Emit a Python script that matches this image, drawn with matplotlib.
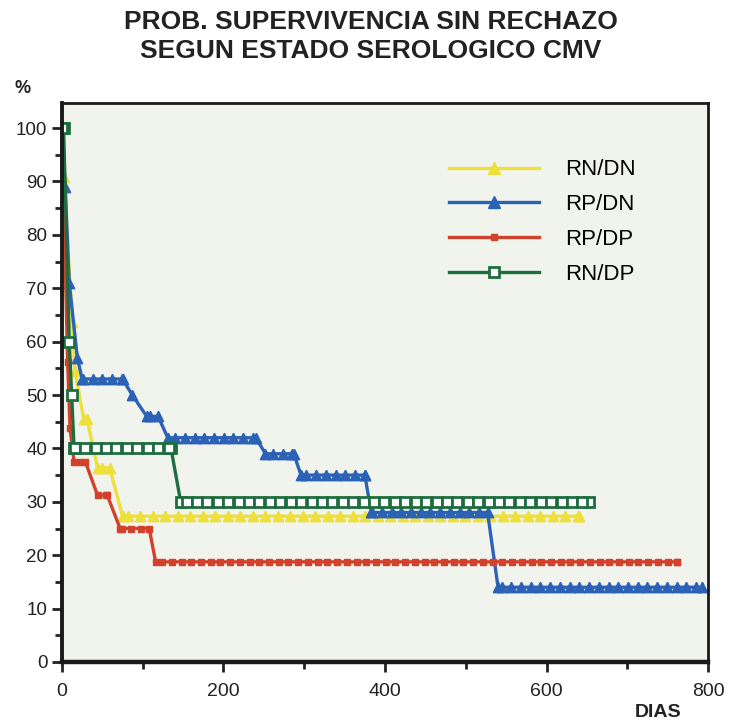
import numpy as np
import matplotlib.pyplot as plt
import matplotlib.colors as mcolors
from matplotlib.lines import Line2D
from matplotlib.markers import MarkerStyle
from matplotlib.path import Path
from matplotlib.patheffects import AbstractPathEffect
from matplotlib.ticker import MultipleLocator
from matplotlib.transforms import Affine2D, IdentityTransform

plt.rcParams['font.family'] = ['Liberation Sans', 'DejaVu Sans']

# Kaplan-Meier breakpoints (dias, %)
rn_dn_x = [0, 2, 13, 16, 27, 31, 44, 59, 75, 640]
rn_dn_y = [100, 90.9, 63.6, 54.5, 45.5, 45.5, 36.4, 36.4, 27.3, 27.3]

rp_dn_x = [0, 4, 9, 19, 25, 75, 87, 105, 119, 131, 240, 252, 287, 296, 375, 383, 527, 540, 793]
rp_dn_y = [100, 89, 71, 57, 53, 53, 50, 46, 46, 42, 42, 39, 39, 35, 35, 28, 28, 14, 14]

rp_dp_x = [0, 7, 10, 15, 29, 44, 56, 72, 108, 116, 762]
rp_dp_y = [100, 56.25, 43.75, 37.5, 37.5, 31.25, 31.25, 25, 25, 18.75, 18.75]

rn_dp_x = [0, 2, 9, 12, 15, 135, 147, 653]
rn_dp_y = [100, 100, 60, 50, 40, 40, 30, 30]

labels = ['RN/DN', 'RP/DN', 'RP/DP', 'RN/DP']


class MarkedStroke(AbstractPathEffect):
    # draws the line, a marker at each vertex and a row of markers
    # every `spacing` points along the flat stretches
    def __init__(self, marker, size, spacing, face, edge, mew):
        super().__init__()
        self.marker = MarkerStyle(marker)
        self.size = size
        self.spacing = spacing
        self.face = mcolors.to_rgb(face)
        self.edge = edge
        self.mew = mew

    def draw_path(self, renderer, gc, tpath, affine, rgbFace=None):
        renderer.draw_path(gc, tpath, affine, rgbFace)
        pts = affine.transform(tpath.vertices)
        dxy = np.diff(pts, axis=0)
        seg = np.hypot(dxy[:, 0], dxy[:, 1])
        flat = np.abs(dxy[:, 1]) <= 0.6 * np.abs(dxy[:, 0])
        cum = np.concatenate([[0], np.cumsum(seg)])
        step = renderer.points_to_pixels(self.spacing)
        d = np.arange(0, cum[-1] + 1e-6, step)
        idx = np.clip(np.searchsorted(cum, d, side='right') - 1, 0, len(seg) - 1)
        d = d[flat[idx]]
        along = np.column_stack([np.interp(d, cum, pts[:, 0]), np.interp(d, cum, pts[:, 1])])
        where = np.vstack([pts, along])
        gc0 = renderer.new_gc()
        gc0.copy_properties(gc)
        gc0.set_foreground(self.edge)
        gc0.set_linewidth(self.mew)
        gc0.set_joinstyle('miter')
        w = renderer.points_to_pixels(self.size)
        mtrans = self.marker.get_transform() + Affine2D().scale(w)
        renderer.draw_markers(gc0, self.marker.get_path(), mtrans, Path(where),
                              IdentityTransform(), self.face)
        gc0.restore()


yellow, blue, red, green = '#eee03c', '#2c62b6', '#d2412c', '#1f6d3e'

fig = plt.figure(figsize=(7.36, 7.25), dpi=100)
ax = fig.add_axes([0.0842, 0.0869, 0.8778, 0.7711])
ax.set_facecolor('#f1f4ec')

ax.plot(rn_dn_x, rn_dn_y, color=yellow, lw=2.4,
        path_effects=[MarkedStroke('^', 7.5, 9, yellow, yellow, 1)])
ax.plot(rp_dn_x, rp_dn_y, color=blue, lw=2.4,
        path_effects=[MarkedStroke('^', 7.5, 7, blue, blue, 1)])
ax.plot(rp_dp_x, rp_dp_y, color=red, lw=2.4,
        path_effects=[MarkedStroke('s', 4.5, 7, red, red, 1)])
ax.plot(rn_dp_x, rn_dp_y, color=green, lw=2.4,
        path_effects=[MarkedStroke('s', 6.5, 7.5, 'white', green, 2)])

handles = [
    Line2D([], [], color=yellow, lw=2.4, marker='^', ms=8),
    Line2D([], [], color=blue, lw=2.4, marker='^', ms=8),
    Line2D([], [], color=red, lw=2.4, marker='s', ms=5),
    Line2D([], [], color=green, lw=2.4, marker='s', ms=7, mfc='white', mew=2),
]

ax.set_xlim(0, 800)
ax.set_ylim(0, 104.7)
ax.xaxis.set_major_locator(MultipleLocator(200))
ax.xaxis.set_minor_locator(MultipleLocator(100))
ax.yaxis.set_major_locator(MultipleLocator(10))
ax.yaxis.set_minor_locator(MultipleLocator(5))
ax.set_yticks(range(0, 101, 10))
ax.tick_params(which='major', direction='out', length=7, width=2, labelsize=13.5, colors='#222222')
ax.tick_params(which='minor', direction='out', length=5, width=2, colors='#222222')
ax.tick_params(axis='x', pad=8, labelsize=14)
for side, w in [('left', 2.8), ('bottom', 3.2), ('right', 2), ('top', 2)]:
    ax.spines[side].set_linewidth(w)
    ax.spines[side].set_color('#1a1a1a')

ax.legend(handles, labels, loc='upper left', bbox_to_anchor=(0.568, 0.935), frameon=False,
          fontsize=16, handlelength=4.05, handletextpad=1.2, labelspacing=0.62,
          numpoints=1, borderpad=0.4)

fig.text(0.504, 0.969, 'PROB. SUPERVIVENCIA SIN RECHAZO', ha='center', va='center',
         fontsize=19, fontweight='bold', color='#222222')
fig.text(0.504, 0.930, 'SEGUN ESTADO SEROLOGICO CMV', ha='center', va='center',
         fontsize=19, fontweight='bold', color='#222222')
fig.text(0.03, 0.878, '%', ha='center', va='center', fontsize=13, fontweight='bold', color='#222222')
fig.text(0.894, 0.017, 'DIAS', ha='center', va='center', fontsize=14, fontweight='bold', color='#222222')

fig.savefig('out.png', dpi=100)
